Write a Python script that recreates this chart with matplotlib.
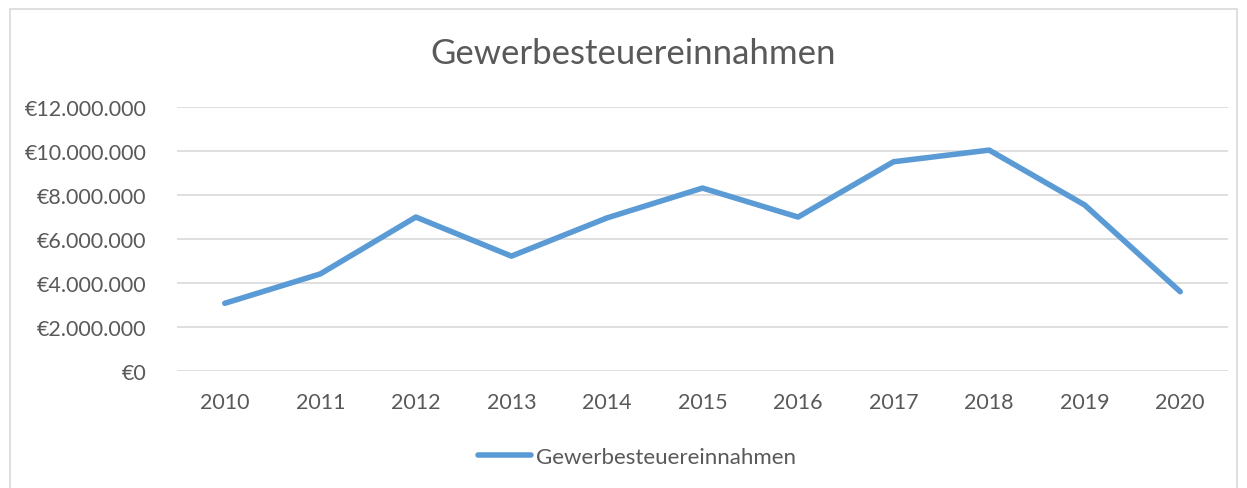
import matplotlib
matplotlib.use("Agg")
import matplotlib.pyplot as plt
from matplotlib.ticker import FuncFormatter
from matplotlib.patches import Rectangle

years = ["2010", "2011", "2012", "2013", "2014", "2015", "2016", "2017", "2018", "2019", "2020"]
revenue = [3070000, 4410000, 7000000, 5220000, 6960000, 8320000, 7000000, 9520000, 10050000, 7550000, 3600000]
y_ticks = [0, 2000000, 4000000, 6000000, 8000000, 10000000, 12000000]
title = "Gewerbesteuereinnahmen"
series_name = "Gewerbesteuereinnahmen"

plt.rcParams['font.family'] = ['Lato', 'DejaVu Sans']
W, H = 1247, 489
fig = plt.figure(figsize=(W / 100, H / 100), dpi=100)
fig.patch.set_facecolor("white")

# chart border
fig.patches.append(Rectangle((10 / W, -0.05), (1237 - 10) / W, 1.05 - 10 / H,
                             transform=fig.transFigure, fill=False,
                             edgecolor="#D9D9D9", linewidth=1.2))

ax = fig.add_axes([177 / W, 1 - 371.7 / H, (1228 - 177) / W, (371.7 - 108.3) / H])
x = list(range(len(years)))
line, = ax.plot(x, revenue, color="#5B9BD5", linewidth=4.0, solid_capstyle="round",
                solid_joinstyle="round", label=series_name, zorder=3)
ax.set_xlim(-0.5, len(years) - 0.5)
ax.set_ylim(0, 12000000)
ax.set_yticks(y_ticks)
ax.set_xticks(x)
ax.set_xticklabels(years)

def fmt(v, pos):
    s = f"{int(round(v)):,}".replace(",", ".")
    return "€" + s
ax.yaxis.set_major_formatter(FuncFormatter(fmt))

ax.grid(axis="y", color="#D9D9D9", linewidth=1.2)
ax.set_axisbelow(True)
for s in ax.spines.values():
    s.set_visible(False)
ax.tick_params(axis="both", length=0, labelsize=15.5, labelcolor="#595959")
ax.tick_params(axis="y", pad=22)
ax.tick_params(axis="x", pad=15)

fig.text(633 / W, 1 - 54 / H, title, ha="center", va="center", fontsize=25, color="#595959")

leg = fig.legend(handles=[line], loc="center", bbox_to_anchor=(637 / W, 1 - 458 / H),
                 frameon=False, fontsize=16, handlelength=2.4, handletextpad=0.25)
for t in leg.get_texts():
    t.set_color("#595959")

fig.savefig("out.png", dpi=100, facecolor="white")
